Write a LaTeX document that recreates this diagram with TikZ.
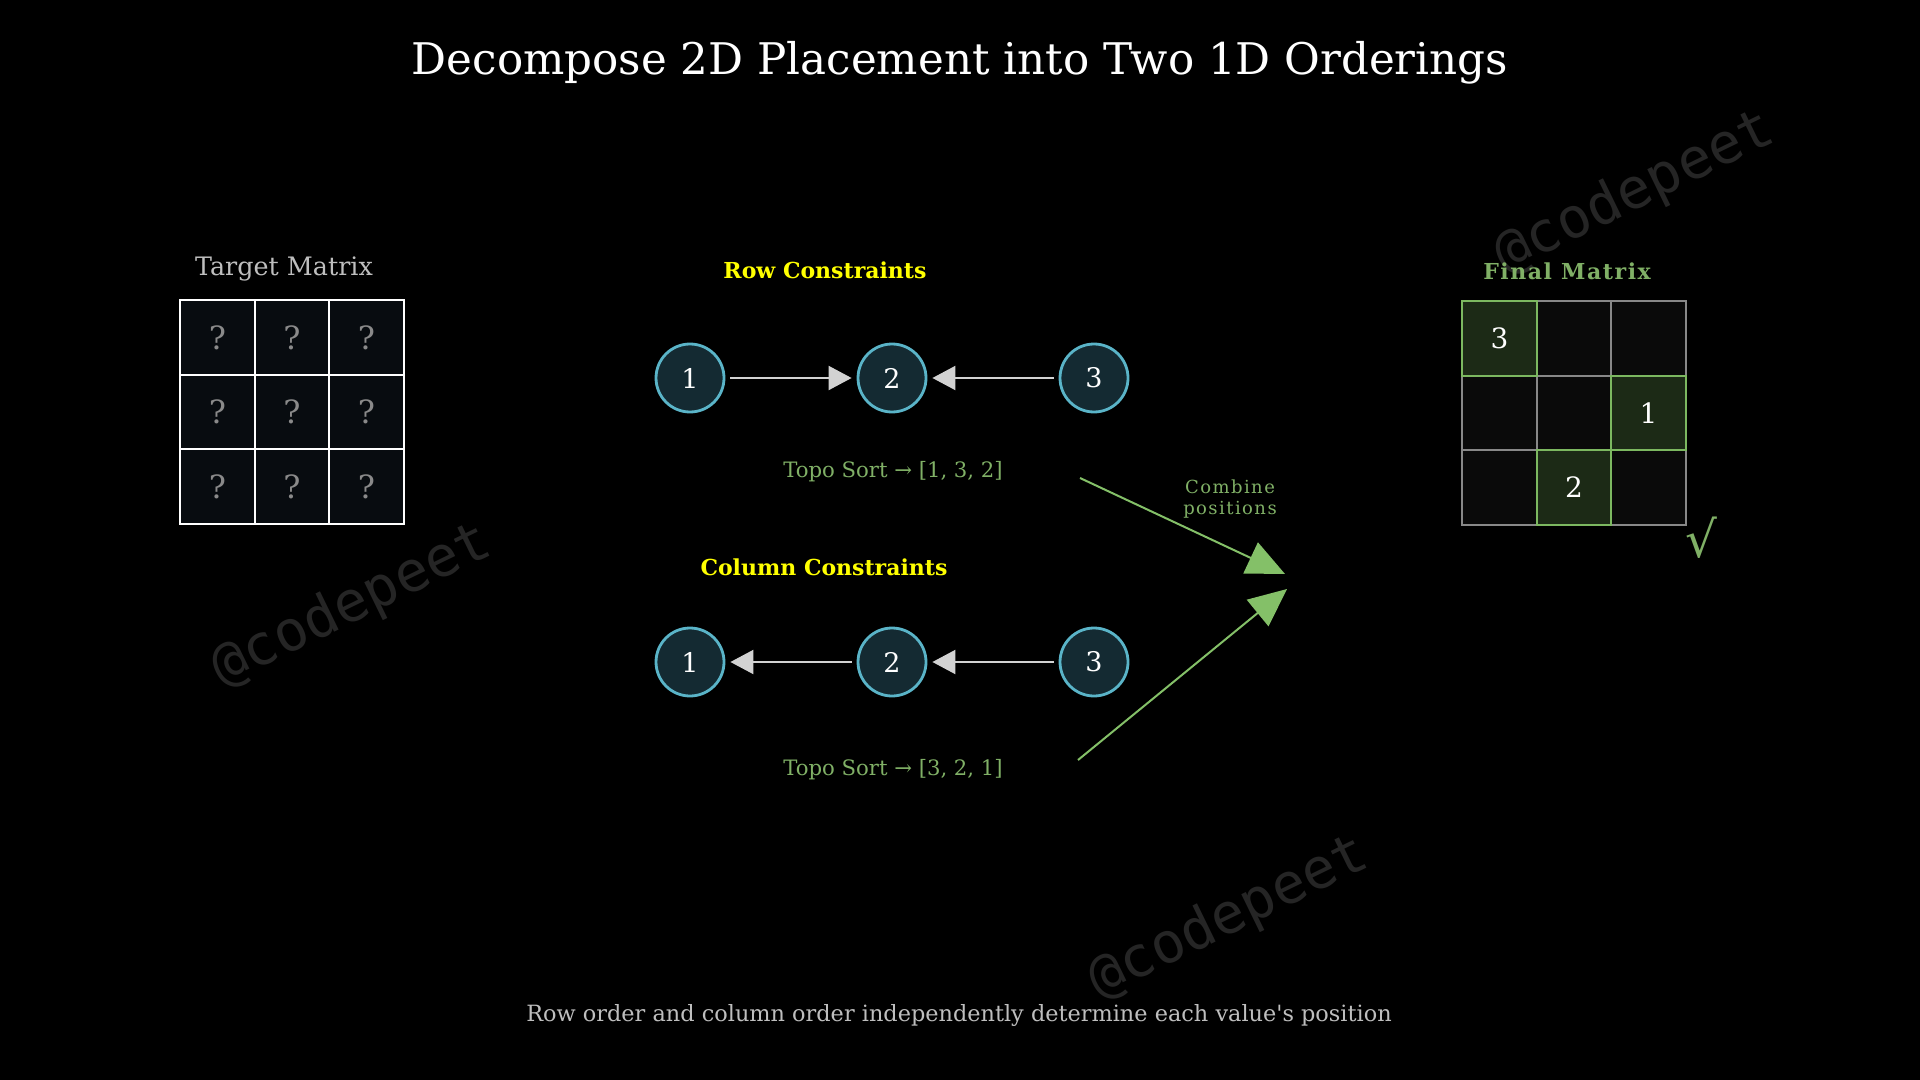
\documentclass[tikz,border=0pt]{standalone}
\usepackage{fontspec}
\setmainfont{DejaVu Serif}
\newfontfamily\wmfont{DejaVu Sans Mono}
\usetikzlibrary{arrows.meta}
\definecolor{cyanb}{HTML}{5AB4C8}
\definecolor{circfill}{HTML}{142A32}
\definecolor{gridfill}{HTML}{080C10}
\definecolor{qgray}{HTML}{8A8A8A}
\definecolor{lgray}{HTML}{BEBEBE}
\definecolor{agray}{HTML}{D2D2D2}
\definecolor{gtext}{HTML}{80B066}
\definecolor{garrow}{HTML}{84C068}
\definecolor{fcell}{HTML}{0A0A0A}
\definecolor{fborder}{HTML}{888888}
\definecolor{hcell}{HTML}{1C2A16}
\definecolor{hborder}{HTML}{7CB860}
\definecolor{wm}{HTML}{252525}
\definecolor{ttlyellow}{HTML}{FFFF00}
\begin{document}
\begin{tikzpicture}[x=0.5pt,y=-0.5pt,
  title/.style={text=white,font=\fontsize{21.8}{25}\selectfont},
  label/.style={text=lgray,font=\fontsize{12.7}{14}\selectfont},
  caption/.style={text=lgray,font=\fontsize{11.2}{13}\selectfont},
  head/.style={text=ttlyellow,font=\bfseries\fontsize{11}{13}\selectfont},
  tcell/.style={draw=white,line width=1.1pt,fill=gridfill,minimum size=37.25pt,inner sep=0pt,text=qgray,font=\fontsize{16}{18}\selectfont},
  fmcell/.style={draw=fborder,line width=1.1pt,fill=fcell,minimum size=37.25pt,inner sep=0pt,text=white,font=\fontsize{14}{16}\selectfont},
  hlcell/.style={fmcell,draw=hborder,fill=hcell},
  vnode/.style={circle,draw=cyanb,fill=circfill,line width=1.4pt,minimum size=34pt,inner sep=0pt,text=white,font=\fontsize{13.5}{15}\selectfont},
  garr/.style={-{Triangle[length=11.5pt,width=12pt]},draw=agray,fill=agray,line width=1pt,shorten <=2.5pt,shorten >=2.5pt},
  topo/.style={text=gtext,font=\fontsize{10.6}{12}\selectfont},
  greenarr/.style={-{Triangle[length=19pt,width=17pt]},draw=garrow,fill=garrow,line width=1pt},
  wmark/.style={text=wm,font=\wmfont\fontsize{28}{30}\selectfont,rotate=26}
]
\fill[black] (0,0) rectangle (1920,1080);
\useasboundingbox (0,0) rectangle (1920,1080);

% watermarks
\node[wmark] (wm1) at (352,606) {@codepeet};
\node[wmark] (wm2) at (1635,193) {@codepeet};
\node[wmark] (wm3) at (1229,918) {@codepeet};

% title
\node[title] (title) at (960,63) {Decompose 2D Placement into Two 1D Orderings};

% target matrix
\node[label] (tlab) at (284,269) {Target Matrix};
\foreach \r in {0,1,2}{
  \foreach \c in {0,1,2}{
    \node[tcell] (t-\r-\c) at ({217.5+74.5*\c},{337.5+74.5*\r}) {?};
  }
}

% row constraints
\node[head] (rowh) at (825,270) {Row Constraints};
\node[vnode] (r1) at (690,378) {1};
\node[vnode] (r2) at (892,378) {2};
\node[vnode] (r3) at (1094,378) {3};
\draw[garr] (r1) -- (r2);
\draw[garr] (r3) -- (r2);
\node[topo] (rtopo) at (893,472) {Topo Sort → [1, 3, 2]};

% column constraints
\node[head] (colh) at (824,567) {Column Constraints};
\node[vnode] (c1) at (690,662) {1};
\node[vnode] (c2) at (892,662) {2};
\node[vnode] (c3) at (1094,662) {3};
\draw[garr] (c2) -- (c1);
\draw[garr] (c3) -- (c2);
\node[topo] (ctopo) at (893,770) {Topo Sort → [3, 2, 1]};

% combine arrows
\coordinate (g1s) at (1080,478);
\coordinate (g1e) at (1285,574);
\coordinate (g2s) at (1078,760);
\coordinate (g2e) at (1287,589);
\draw[greenarr] (g1s) -- (g1e);
\draw[greenarr] (g2s) -- (g2e);
\node[topo,font=\fontsize{9}{9}\selectfont\addfontfeature{LetterSpace=8},align=center,inner sep=0pt] (comb) at (1230,499) {Combine\\[1.5pt]positions};

% final matrix
\node[head,text=gtext,font=\bfseries\fontsize{11}{13}\selectfont\addfontfeature{LetterSpace=7}] (flab) at (1567,271) {Final Matrix};
\foreach \r in {0,1,2}{
  \foreach \c in {0,1,2}{
    \node[fmcell] (f-\r-\c) at ({1499.5+74.5*\c},{338.5+74.5*\r}) {};
  }
}
\node[hlcell] (h1) at (f-0-0) {3};
\node[hlcell] (h2) at (f-1-2) {1};
\node[hlcell] (h3) at (f-2-1) {2};
\node[text=gtext,font=\fontsize{25}{27}\selectfont,inner sep=0pt] (check) at (1701,538) {√};

% bottom caption
\node[caption] (cap) at (959,1015) {Row order and column order independently determine each value\textquotesingle s position};
\end{tikzpicture}
\end{document}
